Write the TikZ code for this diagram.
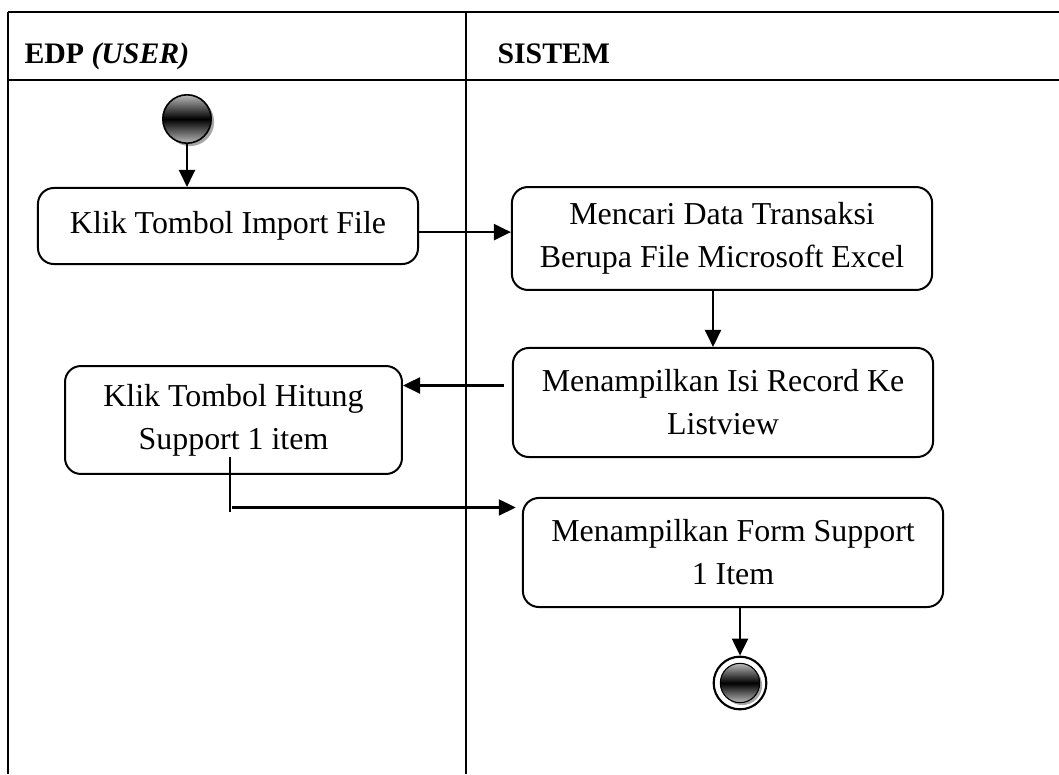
\documentclass[tikz,border=0pt]{standalone}
\usepackage{fontspec}
\setmainfont{Liberation Serif}
\usetikzlibrary{arrows.meta,shadows}

\tikzset{
	garis/.style={line width=1.1pt, color=black},
	tipis/.style={line width=0.45pt, color=black},
	aksi/.style={draw, line width=0.75pt, rounded corners=6pt, align=center, inner sep=0pt, font=\fontsize{12}{16.2}\selectfont},
	alur/.style={line width=0.9pt, -{Triangle[length=6.4pt,width=6pt]}},
	judul/.style={anchor=base west, inner sep=0pt, font=\fontsize{11.2}{14}\selectfont\bfseries},
	mulai/.style={circle, draw, line width=0.6pt, minimum size=18.2pt, inner sep=0pt,
		top color=gray!55, bottom color=gray!55, middle color=black,
		drop shadow={shadow xshift=1.1pt, shadow yshift=-1.1pt, fill=gray!70, opacity=1}},
	selesai/.style={circle, draw, line width=0.8pt, fill=white, minimum size=19.8pt, inner sep=0pt,
		path picture={
			\fill[gray!70] ([shift={(0.9pt,-0.9pt)}]path picture bounding box.center) circle (7.4pt);
			\shade[top color=gray!55, bottom color=gray!55, middle color=black, draw=black, line width=0.4pt]
				(path picture bounding box.center) circle (7.4pt);}},
}

\begin{document}
\begin{tikzpicture}[x=0.376pt, y=-0.376pt]
			%%%%% START %%%%%
			\useasboundingbox (0,0) rectangle (1059,774);
			
			% tabel swimlane
			\draw[garis] (8,12) -- (1059,12);
			\draw[garis] (8,80) -- (1059,80);
			\draw[garis] (8,12) -- (8,774);
			\draw[garis] (466,12) -- (466,774);
			
			\node[judul] (edp) at (24,64) {EDP \textit{(USER)}};
			\node[judul] (sistem) at (497,64) {SISTEM};
			
			% aktivitas
			\node[mulai] (start) at (187,119) {};
			\node[aksi, minimum width=142.9pt, minimum height=28.6pt] (importfile) at (228,226) {Klik Tombol Import File};
			\node[aksi, minimum width=158pt, minimum height=38.7pt] (caridata) at (722,238.5) {Mencari Data Transaksi\\Berupa File Microsoft Excel};
			\node[aksi, minimum width=158pt, minimum height=41pt] (tampilrecord) at (723,402.5) {Menampilkan Isi Record Ke\\Listview};
			\node[aksi, minimum width=126.7pt, minimum height=40.6pt] (hitung) at (233.5,420) {Klik Tombol Hitung\\Support 1 item};
			\node[aksi, minimum width=158pt, minimum height=41pt] (formsupport) at (733,552.5) {Menampilkan Form Support\\1 Item};
			\node[selesai] (finish) at (740,683) {};
			
			% alur
			\draw[alur] (start) -- (start |- importfile.north);
			\draw[alur] ([yshift=-2.3pt]importfile.east) -- ([yshift=-2.3pt]importfile.east -| caridata.west);
			\draw[alur] (caridata.south -| 713,0) -- (tampilrecord.north -| 713,0);
			\draw[alur, shorten <=3pt] ([yshift=6.4pt]tampilrecord.west) -- ([yshift=6.4pt]tampilrecord.west -| hitung.east);
			
			\coordinate (potong) at (230,512);
			\draw[tipis] (potong |- 0,457) -- (potong);
			\draw[alur, shorten >=3pt] ([xshift=0.7pt,yshift=1.7pt]potong) -- ([xshift=0.7pt,yshift=1.7pt]potong -| formsupport.west);
			\draw[alur] (formsupport.south -| finish) -- (finish);
			
			%%%%% END %%%%%
\end{tikzpicture}
\end{document}
